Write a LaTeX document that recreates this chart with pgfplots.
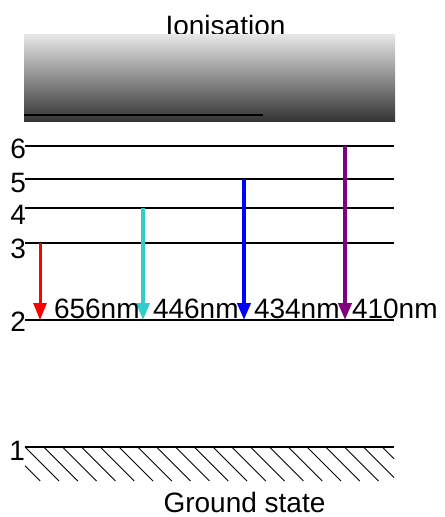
\documentclass[border=0pt]{standalone}
\usepackage{pgfplots}
\pgfplotsset{compat=1.18}
\usepackage{fontspec}
\setmainfont{Liberation Sans}
\usetikzlibrary{arrows.meta}
\definecolor{cyanarr}{HTML}{33CCCC}
\definecolor{purplearr}{HTML}{800080}
\tikzset{lbl/.style={font=\fontsize{28bp}{30bp}\selectfont, inner sep=0pt, outer sep=0pt}}
\begin{document}
\begin{tikzpicture}
\begin{axis}[
  width=445bp, height=517bp, scale only axis,
  xmin=0, xmax=445, ymin=0, ymax=517, y dir=reverse,
  hide axis, clip=false,
]
\path (axis cs:0,0) rectangle (axis cs:445,517);
% title (partly covered by the box)
\node[lbl, anchor=base] at (axis cs:225.5,36) {Ionisation};
% ionisation continuum
\addplot[draw=none, shade, top color=black!10, bottom color=black!80]
  coordinates {(24,35) (395,35) (395,121.7) (24,121.7) (24,35)};
\addplot[black, line width=2bp] coordinates {(24,115) (263,115)};
% levels
\addplot[black, line width=1.8bp] coordinates {(25,146) (394,146)};
\addplot[black, line width=1.8bp] coordinates {(25,179) (394,179)};
\addplot[black, line width=1.8bp] coordinates {(25,208) (394,208)};
\addplot[black, line width=1.8bp] coordinates {(25,243) (394,243)};
\addplot[black, line width=1.8bp] coordinates {(25,320) (394,320)};
\addplot[black, line width=1.8bp] coordinates {(25,447) (394,447)};
% hatching
\addplot[black, line width=0.9bp, unbounded coords=jump] coordinates {
(25,465.8) (40.2,481) (nan,nan)
(25,447) (59,481) (nan,nan)
(43.8,447) (77.8,481) (nan,nan)
(62.6,447) (96.6,481) (nan,nan)
(81.4,447) (115.4,481) (nan,nan)
(100.2,447) (134.2,481) (nan,nan)
(119,447) (153,481) (nan,nan)
(137.8,447) (171.8,481) (nan,nan)
(156.6,447) (190.6,481) (nan,nan)
(175.4,447) (209.4,481) (nan,nan)
(194.2,447) (228.2,481) (nan,nan)
(213,447) (247,481) (nan,nan)
(231.8,447) (265.8,481) (nan,nan)
(250.6,447) (284.6,481) (nan,nan)
(269.4,447) (303.4,481) (nan,nan)
(288.2,447) (322.2,481) (nan,nan)
(307,447) (341,481) (nan,nan)
(325.8,447) (359.8,481) (nan,nan)
(344.6,447) (378.6,481) (nan,nan)
(363.4,447) (394,477.6) (nan,nan)
(382.2,447) (394,458.8)
};
% transitions
\addplot[red, line width=3bp, -{Triangle[width=13bp,length=17bp]}] coordinates {(40,243) (40,320)};
\addplot[cyanarr, line width=3.5bp, -{Triangle[width=13bp,length=17bp]}] coordinates {(143,208) (143,320)};
\addplot[blue, line width=4bp, -{Triangle[width=13bp,length=17bp]}] coordinates {(244,179) (244,320)};
\addplot[purplearr, line width=4bp, -{Triangle[width=13bp,length=17bp]}] coordinates {(345,146) (345,320)};
% wavelength labels
\node[lbl, anchor=base west] at (axis cs:54,318.3) {656nm};
\node[lbl, anchor=base west] at (axis cs:153,318.3) {446nm};
\node[lbl, anchor=base west] at (axis cs:254,318.3) {434nm};
\node[lbl, anchor=base west] at (axis cs:352,318.3) {410nm};
% level numbers
\node[lbl, anchor=base east] at (axis cs:26,158) {6};
\node[lbl, anchor=base east] at (axis cs:26,192) {5};
\node[lbl, anchor=base east] at (axis cs:26,224) {4};
\node[lbl, anchor=base east] at (axis cs:26,258) {3};
\node[lbl, anchor=base east] at (axis cs:26,331) {2};
\node[lbl, anchor=base east] at (axis cs:25,460) {1};
\node[lbl, anchor=base] at (axis cs:244.5,512.5) {Ground state};
\end{axis}
\end{tikzpicture}
\end{document}
